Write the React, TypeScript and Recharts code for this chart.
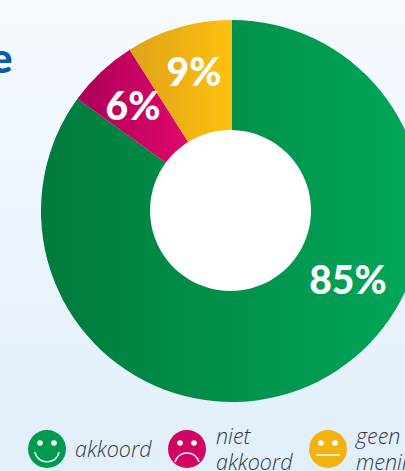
import React from 'react';
import { PieChart, Pie, Cell } from 'recharts';

const categories = ['akkoord', 'niet akkoord', 'geen mening'];
const values = [85, 6, 9];
const gradientStops = [
  ['#007a3c', '#00a85a'],
  ['#ad0058', '#e2086c'],
  ['#dfa318', '#fdc00e'],
];
const faceColors = ['#009a4e', '#d10462', '#f3b212'];
const holeValues = [1];

const data = categories.map((name, i) => ({ name, value: values[i] }));

// label spots around the centre, the labels don't sit on the slice middle
const labelOffsets = [
  { dx: 116, dy: 68 },
  { dx: -99, dy: -106 },
  { dx: -38, dy: -140 },
];

const renderLabel = (props: any) => {
  const { cx, cy, index, value } = props;
  const o = labelOffsets[index];
  return (
    <text
      x={cx + o.dx}
      y={cy + o.dy}
      fill="#fff"
      fontFamily="Lato, sans-serif"
      fontWeight={900}
      fontSize={39}
      textAnchor="middle"
      dominantBaseline="central"
    >
      {value}%
    </text>
  );
};

const Face = ({ color, mood, left }: { color: string; mood: number; left: number }) => (
  <svg width={40} height={40} viewBox="0 0 40 40" style={{ position: 'absolute', left, top: 429 }}>
    <circle cx={20} cy={20} r={19} fill={color} />
    <circle cx={13} cy={14} r={2.8} fill="#fff" />
    <circle cx={27} cy={14} r={2.8} fill="#fff" />
    {mood === 0 && <path d="M8 23 C10 36 30 36 32 23" fill="none" stroke="#fff" strokeWidth={1.5} />}
    {mood === 1 && <path d="M8 33 C11 21 29 21 32 33" fill="none" stroke="#fff" strokeWidth={1.5} />}
    {mood === 2 && <path d="M8 26 L32 26" fill="none" stroke="#fff" strokeWidth={1.5} />}
  </svg>
);

const legendText: React.CSSProperties = {
  position: 'absolute',
  fontFamily: '"Open Sans", sans-serif',
  fontStyle: 'italic',
  fontWeight: 300,
  fontSize: 21.5,
  lineHeight: '26px',
  color: '#33383f',
  whiteSpace: 'nowrap',
};

export default function App() {
  return (
    <div
      style={{
        position: 'fixed',
        left: 0,
        top: 0,
        width: 405,
        height: 471,
        overflow: 'hidden',
        background: 'linear-gradient(180deg, #f6faff 0%, #e1effa 100%)',
      }}
    >
      <PieChart width={405} height={471} margin={{ top: 0, right: 0, bottom: 0, left: 0 }}>
        <defs>
          {gradientStops.map((s, i) => (
            <linearGradient key={i} id={`slice${i}`} x1="0" y1="0" x2="1" y2="0">
              <stop offset="0%" stopColor={s[0]} />
              <stop offset="100%" stopColor={s[1]} />
            </linearGradient>
          ))}
        </defs>
        <Pie
          data={data}
          dataKey="value"
          cx={232}
          cy={211}
          innerRadius={70}
          outerRadius={191}
          startAngle={90}
          endAngle={-270}
          stroke="none"
          label={renderLabel}
          labelLine={false}
          isAnimationActive={false}
        >
          {data.map((d, i) => (
            <Cell key={d.name} fill={`url(#slice${i})`} />
          ))}
        </Pie>
        <Pie
          data={holeValues.map((value) => ({ value }))}
          dataKey="value"
          cx={230.5}
          cy={210.5}
          innerRadius={0}
          outerRadius={80.5}
          fill="#fff"
          stroke="none"
          isAnimationActive={false}
        />
      </PieChart>

      <Face color={faceColors[0]} mood={0} left={27} />
      <Face color={faceColors[1]} mood={1} left={167} />
      <Face color={faceColors[2]} mood={2} left={308} />

      <div style={{ ...legendText, left: 75, top: 436 }}>akkoord</div>
      <div style={{ ...legendText, left: 216, top: 423 }}>
        niet
        <br />
        akkoord
      </div>
      <div style={{ ...legendText, left: 356, top: 423 }}>
        geen
        <br />
        mening
      </div>

      <div
        style={{
          position: 'absolute',
          left: -10,
          top: 32,
          fontFamily: 'Lato, sans-serif',
          fontWeight: 900,
          fontSize: 42,
          color: '#0a5cab',
        }}
      >
        e
      </div>
    </div>
  );
}
